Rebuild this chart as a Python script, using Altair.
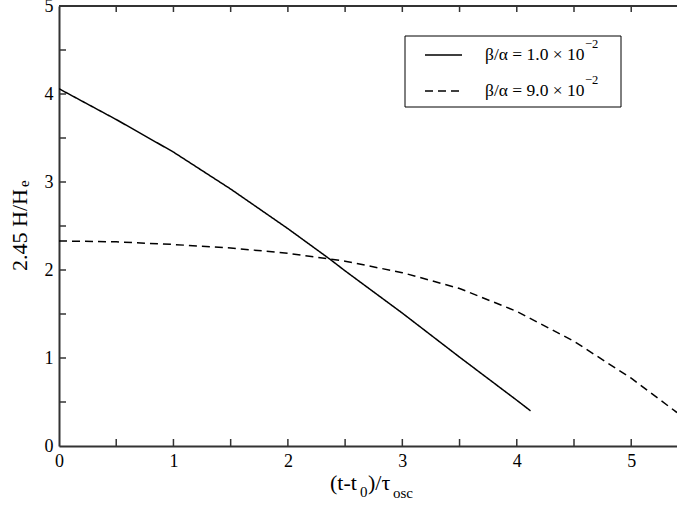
import altair as alt
import pandas as pd

# ---- data ----
solid_x = [0.0, 0.5, 1.0, 1.5, 2.0, 2.37, 2.5, 3.0, 3.5, 4.0, 4.12]
solid_y = [4.06, 3.71, 3.34, 2.92, 2.47, 2.12, 1.99, 1.51, 1.01, 0.52, 0.40]
dash_x = [0.0, 0.5, 1.0, 1.5, 2.0, 2.5, 3.0, 3.5, 4.0, 4.5, 5.0, 5.4]
dash_y = [2.33, 2.32, 2.29, 2.25, 2.19, 2.10, 1.97, 1.79, 1.53, 1.19, 0.77, 0.38]
series_names = ["β/α = 1.0 × 10⁻²", "β/α = 9.0 × 10⁻²"]
legend_main = ["β/α = 1.0 × 10", "β/α = 9.0 × 10"]
legend_sup = ["−2", "−2"]
x_ticks = [0, 1, 2, 3, 4, 5]
y_ticks = [0, 1, 2, 3, 4, 5]
minor_x = [0.5, 1.0, 1.5, 2.0, 2.5, 3.0, 3.5, 4.0, 4.5, 5.0]
minor_y = [0.5, 1.0, 1.5, 2.0, 2.5, 3.0, 3.5, 4.0, 4.5]

W, H = 618, 440
FONT = "Liberation Serif"

df = pd.concat([
    pd.DataFrame({"x": solid_x, "y": solid_y, "s": series_names[0]}),
    pd.DataFrame({"x": dash_x, "y": dash_y, "s": series_names[1]}),
])

xscale = alt.Scale(domain=[0, 5.4], nice=False)
yscale = alt.Scale(domain=[0, 5], nice=False)

base_x_axis = alt.Axis(values=x_ticks, ticks=False, title=None, labelFont=FONT,
                       labelFontSize=18, labelColor="black", labelPadding=6,
                       domainColor="#333", domainWidth=2, grid=False,
                       labelFlush=False, labelOverlap=False, format="d")
base_y_axis = alt.Axis(values=y_ticks, ticks=False, title=None, labelFont=FONT,
                       labelFontSize=18, labelColor="black", labelPadding=6,
                       domainColor="#333", domainWidth=2, grid=False,
                       labelFlush=False, labelOverlap=False, format="d")

lines = alt.Chart(df).mark_line(color="black", strokeWidth=1.5, clip=True).encode(
    x=alt.X("x:Q", scale=xscale, axis=base_x_axis),
    y=alt.Y("y:Q", scale=yscale, axis=base_y_axis),
    strokeDash=alt.StrokeDash("s:N", scale=alt.Scale(domain=series_names,
                              range=[[1, 0], [8, 5]]), legend=None),
    detail="s:N",
)

mx = pd.DataFrame({"v": minor_x})
my = pd.DataFrame({"v": minor_y})
tick_style = dict(color="#333", strokeWidth=1.5)
bottom_ticks = alt.Chart(mx).mark_rule(**tick_style).encode(
    x=alt.X("v:Q", scale=xscale), y=alt.value(H), y2=alt.value(H - 7))
top_ticks = alt.Chart(mx).mark_rule(**tick_style).encode(
    x=alt.X("v:Q", scale=xscale), y=alt.value(0), y2=alt.value(6))
left_ticks = alt.Chart(my).mark_rule(**tick_style).encode(
    y=alt.Y("v:Q", scale=yscale), x=alt.value(0), x2=alt.value(7))
top_border = alt.Chart(mx).mark_rule(color="#333", strokeWidth=2).encode(
    x=alt.value(0), x2=alt.value(W), y=alt.value(0))

one = pd.DataFrame({"a": [0]})
legend_box = alt.Chart(one).mark_rect(fill="white", stroke="black", strokeWidth=1).encode(
    x=alt.value(346), x2=alt.value(562), y=alt.value(30), y2=alt.value(101))

layers = [lines, bottom_ticks, top_ticks, left_ticks, top_border, legend_box]
dashes = [[1, 0], [8, 5]]
for i in range(2):
    yy = 49 + i * 36
    layers.append(alt.Chart(one).mark_rule(color="black", strokeWidth=1.5,
                                            strokeDash=dashes[i]).encode(
        x=alt.value(366), x2=alt.value(403), y=alt.value(yy)))
    layers.append(alt.Chart(one).mark_text(font=FONT, fontSize=17.5, align="left",
                                            baseline="middle", color="black").encode(
        x=alt.value(426), y=alt.value(yy), text=alt.value(legend_main[i])))
    layers.append(alt.Chart(one).mark_text(font=FONT, fontSize=12.5, align="left",
                                            baseline="middle", color="black").encode(
        x=alt.value(526), y=alt.value(yy - 11), text=alt.value(legend_sup[i])))

# x title: (t-t0)/τosc
xt = [("(t-t", 271, 484, 22), ("0", 301, 491, 15), (")/τ", 309, 484, 22), ("osc", 334, 492, 15)]
for txt, px, py, fs in xt:
    layers.append(alt.Chart(one).mark_text(font=FONT, fontSize=fs, align="left",
                                            baseline="alphabetic", color="black").encode(
        x=alt.value(px), y=alt.value(py), text=alt.value(txt)))

# y title: 2.45 H/He
layers.append(alt.Chart(one).mark_text(font=FONT, fontSize=22, align="center",
                                        baseline="alphabetic", angle=270, color="black").encode(
    x=alt.value(-32), y=alt.value(224), text=alt.value("2.45 H/H")))
layers.append(alt.Chart(one).mark_text(font=FONT, fontSize=15, align="left",
                                        baseline="alphabetic", angle=270, color="black").encode(
    x=alt.value(-30), y=alt.value(181), text=alt.value("e")))

chart = alt.layer(*layers).properties(
    width=W, height=H,
    autosize=alt.AutoSizeParams(type="none"),
    padding={"left": 59, "top": 6, "right": 0, "bottom": 61},
).configure_view(stroke=None).configure(background="white")

chart.save("out.html", embed_options={"renderer": "svg", "actions": False})
